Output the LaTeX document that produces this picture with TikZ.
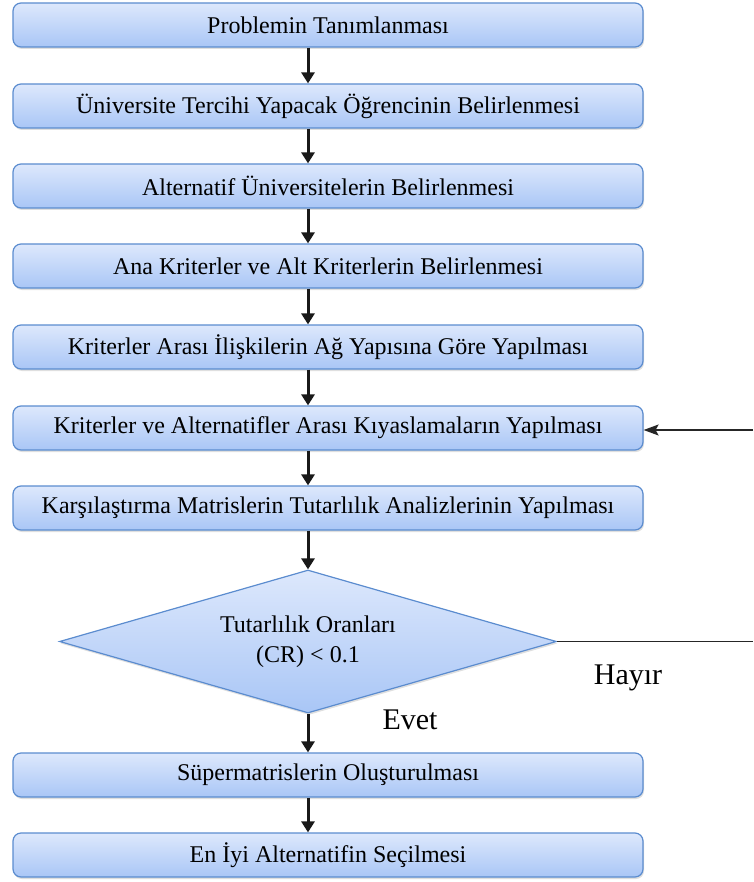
\documentclass[tikz,border=0pt]{standalone}
\usepackage{fontspec}
\setmainfont{Liberation Serif}
\usetikzlibrary{shapes.geometric,arrows.meta,shadows}

\definecolor{kenar}{HTML}{5B8CCF}
\definecolor{ustrenk}{HTML}{DDE8FC}
\definecolor{altrenk}{HTML}{A9C6F6}

\tikzset{
  kutu/.style={rectangle, rounded corners=8pt, draw=kenar, line width=1.2pt,
    top color=ustrenk, bottom color=altrenk, minimum width=630pt, minimum height=44pt,
    inner sep=0pt, font=\fontsize{24}{28}\selectfont,
    drop shadow={opacity=0.25, shadow xshift=1pt, shadow yshift=-2pt}},
  karar/.style={diamond, aspect=3.48, draw=kenar, line width=1.2pt, top color=ustrenk, bottom color=altrenk,
    minimum width=497pt, minimum height=143pt, inner sep=0pt, align=center,
    font=\fontsize{24}{30}\selectfont,
    drop shadow={opacity=0.25, shadow xshift=1pt, shadow yshift=-2pt}},
  ok/.style={line width=3pt, draw=black!90, -{Triangle[width=13pt,length=11pt]}},
  donus/.style={line width=1.4pt, draw=black!85},
  etiket/.style={font=\fontsize{30}{34}\selectfont}
}

\begin{document}
\begin{tikzpicture}[x=1pt,y=-1pt]
  \useasboundingbox (0,0) rectangle (753,882);
  % Nodes
  \node (k1) at (328,25) [kutu] {Problemin Tanımlanması};
  \node (k2) at (328,106) [kutu] {Üniversite Tercihi Yapacak Öğrencinin Belirlenmesi};
  \node (k3) at (328,186) [kutu] {Alternatif Üniversitelerin Belirlenmesi};
  \node (k4) at (328,266) [kutu] {Ana Kriterler ve Alt Kriterlerin Belirlenmesi};
  \node (k5) at (328,347) [kutu] {Kriterler Arası İlişkilerin Ağ Yapısına Göre Yapılması};
  \node (k6) at (328,428) [kutu] {Kriterler ve Alternatifler Arası Kıyaslamaların Yapılması};
  \node (k7) at (328,508) [kutu] {Karşılaştırma Matrislerin Tutarlılık Analizlerinin Yapılması};
  \node (karar) at (308,641.5) [karar] {Tutarlılık Oranları\\(CR) < 0.1};
  \node (k8) at (328,775) [kutu] {Süpermatrislerin Oluşturulması};
  \node (k9) at (328,855) [kutu] {En İyi Alternatifin Seçilmesi};
  \node (evet) at (410,720) [etiket] {Evet};
  \node (hayir) at (628,678) [etiket] {Hayır};
  \coordinate (sag1) at (753,641.5);
  \coordinate (sag2) at (753,430);

  % Edges
  \draw[ok] (k1.south -| 308,0) -- (k2.north -| 308,0);
  \draw[ok] (k2.south -| 308,0) -- (k3.north -| 308,0);
  \draw[ok] (k3.south -| 308,0) -- (k4.north -| 308,0);
  \draw[ok] (k4.south -| 308,0) -- (k5.north -| 308,0);
  \draw[ok] (k5.south -| 308,0) -- (k6.north -| 308,0);
  \draw[ok] (k6.south -| 308,0) -- (k7.north -| 308,0);
  \draw[ok] (k7.south -| 308,0) -- (karar.north);
  \draw[ok] (karar.south) -- (k8.north -| 308,0);
  \draw[ok] (k8.south -| 308,0) -- (k9.north -| 308,0);
  \draw[donus] (karar.east) -- (sag1);
  \draw[donus, -{Stealth[width=11pt,length=15pt,inset=3pt]}] (sag2) -- (k6.east |- sag2);
\end{tikzpicture}
\end{document}
